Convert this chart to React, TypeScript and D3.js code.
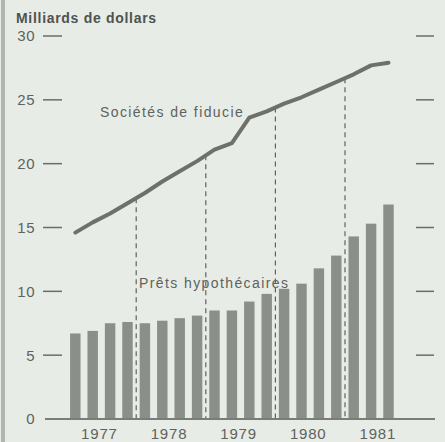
import React from "react";
import * as d3 from "d3";

const quarters = [
  "1977T1", "1977T2", "1977T3", "1977T4",
  "1978T1", "1978T2", "1978T3", "1978T4",
  "1979T1", "1979T2", "1979T3", "1979T4",
  "1980T1", "1980T2", "1980T3", "1980T4",
  "1981T1", "1981T2", "1981T3",
];
const mortgageLoans = [6.7, 6.9, 7.5, 7.6, 7.5, 7.7, 7.9, 8.1, 8.5, 8.5, 9.2, 9.8, 10.2, 10.6, 11.8, 12.8, 14.3, 15.3, 16.8];
const trustCompanies = [14.6, 15.4, 16.1, 16.9, 17.7, 18.6, 19.4, 20.2, 21.1, 21.6, 23.6, 24.1, 24.7, 25.2, 25.8, 26.4, 27.0, 27.7, 27.9];
const years = ["1977", "1978", "1979", "1980", "1981"];
const yTicks = [0, 5, 10, 15, 20, 25, 30];

const W = 445;
const H = 442;
const BG = "#e8ece6";
const BAR = "#8b8f89";
const LINE = "#6c716a";
const TEXT = "#5e625d";

export default function App() {
  const y = d3.scaleLinear().domain([0, 30]).range([419, 36]);
  const x = d3
    .scaleBand<string>()
    .domain(quarters)
    .range([66.6, 397.2])
    .paddingInner(0.4)
    .paddingOuter(0.2);
  const step = x.step();
  const bw = x.bandwidth();
  const cx = (q: string) => (x(q) as number) + bw / 2;
  const boundary = (i: number) => (x(quarters[i]) as number) - (step - bw) / 2;

  const line = d3
    .line<number>()
    .x((_, i) => cx(quarters[i]))
    .y((v) => y(v))
    .curve(d3.curveLinear);

  const yearStarts = years.map((_, i) => i * 4);
  const dashIdx = [4, 8, 12, 16];

  return (
    <svg
      width={W}
      height={H}
      style={{ position: "absolute", left: 0, top: 0, display: "block", fontFamily: "'Liberation Sans', Arial, sans-serif" }}
    >
      <rect x={0} y={0} width={W} height={H} fill={BG} />
      <rect x={1} y={0} width={4} height={H} fill="#b2b6b0" />

      <text x={16} y={23} fontSize={14} fontWeight={600} letterSpacing={0.7} fill="#4f534e">
        Milliards de dollars
      </text>

      {yTicks.map((t) => (
        <g key={t}>
          <text x={35} y={y(t)} dy="0.36em" fontSize={15} textAnchor="end" fill={TEXT} letterSpacing={0.5}>
            {t}
          </text>
          {t > 0 && (
            <line x1={43} x2={62} y1={y(t)} y2={y(t)} stroke="#6a6e69" strokeWidth={1.5} />
          )}
          {t > 0 && (
            <line x1={416} x2={434} y1={y(t)} y2={y(t)} stroke="#6a6e69" strokeWidth={1.5} />
          )}
        </g>
      ))}

      {mortgageLoans.map((v, i) => (
        <rect
          key={quarters[i]}
          x={x(quarters[i])}
          y={y(v)}
          width={bw}
          height={y(0) - y(v)}
          fill={BAR}
        />
      ))}

      {dashIdx.map((i) => {
        const bx = boundary(i);
        const v = (trustCompanies[i - 1] + trustCompanies[i]) / 2;
        return (
          <line
            key={i}
            x1={bx}
            x2={bx}
            y1={y(v)}
            y2={y(0)}
            stroke="#5f635e"
            strokeWidth={1.2}
            strokeDasharray="5,4"
          />
        );
      })}

      <path
        d={line(trustCompanies) || ""}
        fill="none"
        stroke={LINE}
        strokeWidth={4}
        strokeLinejoin="round"
        strokeLinecap="round"
      />

      <line x1={45} x2={435} y1={y(0)} y2={y(0)} stroke="#7a7e79" strokeWidth={2} />

      <text x={100} y={117} fontSize={14} letterSpacing={1.4} fill={TEXT}>
        Sociétés de fiducie
      </text>
      <text x={139} y={288} fontSize={14} letterSpacing={1.4} fill={TEXT}>
        Prêts hypothécaires
      </text>

      {years.map((yr, i) => {
        const start = boundary(yearStarts[i]);
        return (
          <text
            key={yr}
            x={start + 2 * step - 2}
            y={439}
            fontSize={15}
            textAnchor="middle"
            letterSpacing={0.8}
            fill={TEXT}
          >
            {yr}
          </text>
        );
      })}
    </svg>
  );
}
